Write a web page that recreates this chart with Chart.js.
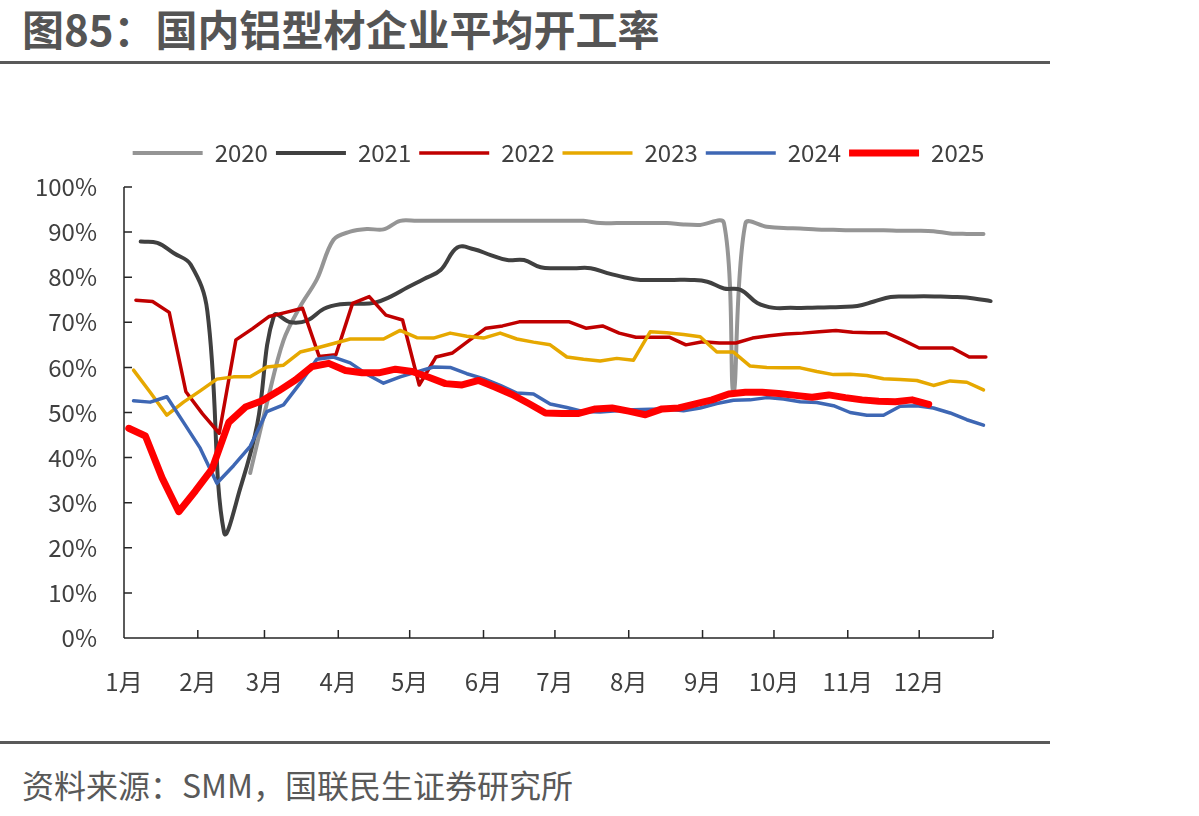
<!DOCTYPE html>
<html>
<head>
<meta charset="utf-8">
<script src="https://cdn.jsdelivr.net/npm/chart.js@4"></script>
<style>
  body { margin: 0; background: #fff; width: 1199px; height: 816px; position: relative; overflow: hidden; font-family: "Noto Sans CJK SC", sans-serif; }
  #title { position: absolute; left: 22px; top: 7px; font-size: 42px; line-height: 1; font-weight: bold; color: #555; }
  .rule { position: absolute; left: 0; width: 1050px; height: 3px; background: #595959; }
  #src { position: absolute; left: 22px; top: 768px; font-size: 32px; line-height: 1; color: #595959; }
  #wrap { position: absolute; left: 0; top: 70px; width: 1050px; height: 670px; }
</style>
</head>
<body>
<div id="title">图85：国内铝型材企业平均开工率</div>
<div class="rule" style="top:61px"></div>
<div id="wrap"><canvas id="c" width="1050" height="670"></canvas></div>
<div class="rule" style="top:741px"></div>
<div id="src">资料来源：SMM，国联民生证券研究所</div>
<script>
const FONT = '"Noto Sans CJK SC", sans-serif';

// x = day of year, month boundaries
const monthStarts = [0, 31, 59, 90, 120, 151, 181, 212, 243, 273, 304, 334, 365];
const monthLabels = ['1月', '2月', '3月', '4月', '5月', '6月', '7月', '8月', '9月', '10月', '11月', '12月', ''];

const days2020 = [53,60,67,74,81,88,95,102,109,116,123,130,137,144,151,158,165,172,179,186,193,200,207,214,221,228,235,242,252,256,261,270,277,284,291,298,305,312,319,326,333,340,347,354,361];
const vals2020 = [36.6,52.0,66.0,73.5,79.5,88.3,90.1,90.7,90.6,92.5,92.5,92.5,92.5,92.5,92.5,92.5,92.5,92.5,92.5,92.5,92.5,92.0,92.0,92.0,92.0,92.0,91.7,91.6,92.0,54.5,91.9,91.2,90.9,90.8,90.6,90.5,90.4,90.4,90.4,90.3,90.3,90.2,89.7,89.6,89.6];

const days2021 = [7,14,21,28,35,42,49,56,63,70,77,84,91,98,105,112,119,126,133,140,147,154,161,168,175,182,189,196,203,210,217,224,231,238,245,252,259,266,273,280,287,294,301,308,315,322,329,336,343,350,357,364];
const vals2021 = [87.9,87.6,85.3,82.8,72.5,23.5,33.5,47.5,71.5,70.0,70.4,73.0,74.0,74.1,74.3,75.7,77.7,79.6,81.6,86.6,86.2,84.9,83.8,83.8,82.2,82.0,82.0,82.0,80.9,80.0,79.4,79.4,79.4,79.4,79.0,77.5,77.2,74.3,73.2,73.2,73.2,73.3,73.4,73.6,74.6,75.6,75.7,75.8,75.7,75.6,75.3,74.7];

const days2022 = [5,12,19,26,33,40,47,54,61,68,75,82,89,96,103,110,117,124,131,138,145,152,159,166,173,180,187,194,201,208,215,222,229,236,243,250,257,264,271,278,285,292,299,306,313,320,327,334,341,348,355,362];
const vals2022 = [74.9,74.6,72.2,54.6,49.7,45.4,66.1,68.6,71.3,72.2,73.1,62.4,62.8,74.2,75.7,71.6,70.5,56.1,62.3,63.2,66.0,68.7,69.2,70.1,70.1,70.1,70.1,68.7,69.2,67.6,66.7,66.7,66.7,65.0,65.7,65.4,65.4,66.5,67.0,67.4,67.6,67.9,68.2,67.8,67.7,67.7,66.1,64.3,64.3,64.3,62.3,62.3];

const days2023 = [4,11,18,25,32,39,46,53,60,67,74,81,88,95,102,109,116,123,130,137,144,151,158,165,172,179,186,193,200,207,214,221,228,235,242,249,256,263,270,277,284,291,298,305,312,319,326,333,340,347,354,361];
const vals2023 = [59.4,54.5,49.4,52.3,54.8,57.4,57.9,57.9,60.1,60.5,63.4,64.3,65.3,66.3,66.3,66.3,68.2,66.6,66.5,67.6,66.9,66.5,67.6,66.3,65.6,65.0,62.3,61.8,61.4,62.0,61.6,67.9,67.7,67.3,66.8,63.4,63.4,60.3,60.0,59.9,59.9,59.1,58.4,58.5,58.2,57.5,57.3,57.1,56.0,57.0,56.7,55.0];

const days2024 = [4,11,18,25,32,39,46,53,60,67,74,81,88,95,102,109,116,123,130,137,144,151,158,165,172,179,186,193,200,207,214,221,228,235,242,249,256,263,270,277,284,291,298,305,312,319,326,333,340,347,354,361];
const vals2024 = [52.6,52.3,53.5,47.8,42.1,34.3,38.2,42.5,50.2,51.7,56.5,61.8,62.3,61.0,58.5,56.5,57.9,59.0,60.1,60.0,58.6,57.5,56.0,54.3,54.1,51.9,51.1,50.2,50.1,50.4,50.6,50.7,50.8,50.4,51.0,52.0,52.7,52.8,53.3,53.0,52.4,52.2,51.5,50.0,49.4,49.4,51.4,51.5,51.0,49.9,48.4,47.2];

const days2025 = [2,9,16,23,30,37,44,51,58,65,72,79,86,93,100,107,114,121,128,135,142,149,156,163,170,177,184,191,198,205,212,219,226,233,240,247,254,261,268,275,282,289,296,303,310,317,324,331,338];
const vals2025 = [46.5,44.8,35.5,28.0,32.6,37.5,47.8,51.2,52.6,54.8,57.2,60.2,60.9,59.3,58.8,58.8,59.6,59.1,57.8,56.4,56.1,57.1,55.6,54.0,52.0,49.9,49.8,49.8,50.8,51.0,50.3,49.5,50.8,51.0,51.9,52.8,54.1,54.5,54.5,54.2,53.8,53.4,53.9,53.3,52.8,52.5,52.4,52.8,51.8];

const pts = (days, vals) => days.map((d, i) => ({x: d, y: vals[i]}));

function series(label, days, vals, color, width, tension, order) {
  return {
    label: label,
    data: pts(days, vals),
    borderColor: color,
    backgroundColor: color,
    borderWidth: width,
    tension: tension,
    pointRadius: 0,
    pointHoverRadius: 0,
    fill: false,
    borderCapStyle: 'round',
    borderJoinStyle: 'round',
    order: order,
  };
}

// axis lines with inside tick marks
const axisLines = {
  id: 'axisLines',
  beforeDatasetsDraw(chart) {
    const {ctx, chartArea: a, scales: {x, y}} = chart;
    ctx.save();
    ctx.lineWidth = 1.5;
    ctx.strokeStyle = '#262626';
    ctx.beginPath();
    ctx.moveTo(a.left, a.top);
    ctx.lineTo(a.left, a.bottom);
    y.ticks.forEach(t => {
      const py = y.getPixelForValue(t.value);
      ctx.moveTo(a.left, py);
      ctx.lineTo(a.left + 8, py);
    });
    ctx.moveTo(a.left, a.bottom);
    ctx.lineTo(a.right, a.bottom);
    x.ticks.forEach(t => {
      const px = x.getPixelForValue(t.value);
      ctx.moveTo(px, a.bottom);
      ctx.lineTo(px, a.bottom - 8);
    });
    ctx.stroke();
    ctx.restore();
  }
};

new Chart(document.getElementById('c'), {
  type: 'line',
  data: {
    datasets: [
      series('2020', days2020, vals2020, '#959595', 4, 0.35, 5),
      series('2021', days2021, vals2021, '#404040', 4, 0.4, 4),
      series('2022', days2022, vals2022, '#C00000', 3.5, 0, 3),
      series('2023', days2023, vals2023, '#E6A800', 3.5, 0, 2),
      series('2024', days2024, vals2024, '#3E67B4', 3.5, 0, 1),
      series('2025', days2025, vals2025, '#FF0000', 7, 0, 0),
    ],
  },
  options: {
    responsive: false,
    animation: false,
    devicePixelRatio: 1,
    layout: { padding: { top: 63, right: 57, left: 0, bottom: 0 } },
    plugins: {
      legend: {
        position: 'top',
        fullSize: false,
        reverse: true,
        labels: {
          usePointStyle: true,
          pointStyle: 'line',
          pointStyleWidth: 70,
          padding: 8,
          color: '#404040',
          font: { size: 24, family: FONT },
        },
      },
      // empty spacer between legend and plot
      title: { display: true, text: ' ', weight: 500, fullSize: false, padding: 0, font: { size: 10 } },
      tooltip: { enabled: false },
    },
    scales: {
      x: {
        type: 'linear',
        min: 0,
        max: 365,
        afterBuildTicks: s => { s.ticks = monthStarts.map(v => ({value: v})); },
        afterFit: s => { s.height = 102; },
        grid: { display: false, drawTicks: false },
        border: { display: false },
        ticks: {
          autoSkip: false,
          maxRotation: 0,
          padding: 29,
          color: '#404040',
          font: { size: 24, family: FONT },
          callback: (v, i) => monthLabels[i],
        },
      },
      y: {
        min: 0,
        max: 100,
        afterFit: s => { s.width = 124; },
        grid: { display: false, drawTicks: false },
        border: { display: false },
        ticks: {
          stepSize: 10,
          padding: 27,
          color: '#404040',
          font: { size: 24, family: FONT },
          callback: v => v + '%',
        },
      },
    },
  },
  plugins: [axisLines],
});
</script>
</body>
</html>
